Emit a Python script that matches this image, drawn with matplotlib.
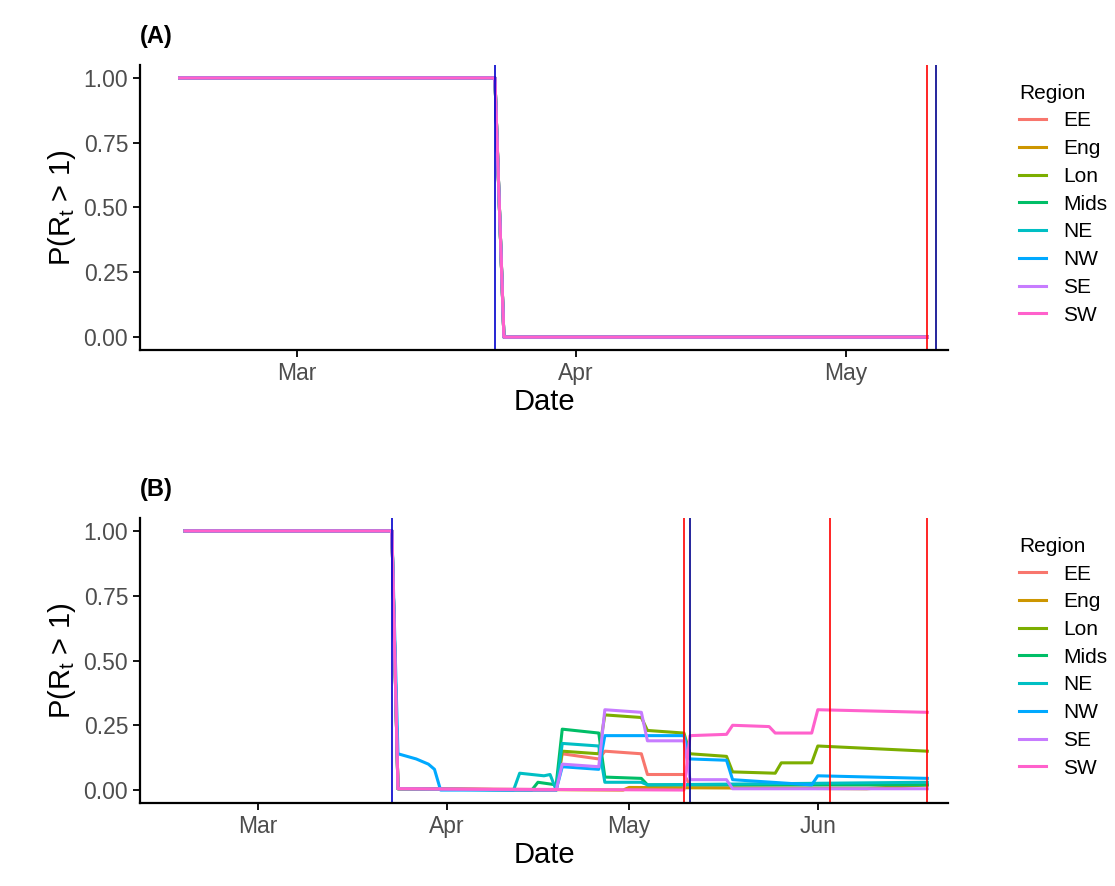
import numpy as np
import matplotlib.pyplot as plt
import matplotlib.dates as mdates
from matplotlib.lines import Line2D

plt.rcParams["font.family"] = ["Liberation Sans", "DejaVu Sans"]

regions = ["EE", "Eng", "Lon", "Mids", "NE", "NW", "SE", "SW"]
colours = ["#F8766D", "#CD9600", "#7CAE00", "#00BE67", "#00BFC4", "#00A9FF", "#C77CFF", "#FF61CC"]

# Panel A: every region identical
a_dates = ["2020-02-17", "2020-03-23", "2020-03-24", "2020-05-10"]
a_vals = [1.0, 1.0, 0.0, 0.0]
a_red = ["2020-05-10"]
a_blue = ["2020-03-23", "2020-05-11"]

# Panel B: breakpoints (day offsets from 1 March) and values per region
b_days = {
    "EE":   [-12, 22, 23, 49, 50, 56, 57, 63, 64, 70, 71, 110],
    "Eng":  [-12, 22, 23, 60, 61, 100, 110],
    "Lon":  [-12, 22, 23, 49, 50, 56, 57, 63, 64, 70, 71, 77, 78, 85, 86, 91, 92, 110],
    "Mids": [-12, 22, 23, 45, 46, 49, 50, 56, 57, 63, 64, 110],
    "NE":   [-12, 22, 23, 42, 43, 47, 48, 49, 50, 56, 57, 63, 64, 110],
    "NW":   [-12, 22, 23, 26, 28, 29, 30, 49, 50, 56, 57, 70, 71, 77, 78, 91, 92, 110],
    "SE":   [-12, 22, 23, 49, 50, 56, 57, 63, 64, 70, 71, 77, 78, 110],
    "SW":   [-12, 22, 23, 70, 71, 77, 78, 84, 85, 91, 92, 110],
}
b_vals = {
    "EE":   [1, 1, 0.005, 0.0, 0.14, 0.12, 0.15, 0.14, 0.06, 0.06, 0.02, 0.02],
    "Eng":  [1, 1, 0.005, 0.0, 0.01, 0.005, 0.02],
    "Lon":  [1, 1, 0.005, 0.0, 0.15, 0.14, 0.29, 0.28, 0.23, 0.22, 0.14, 0.13, 0.07, 0.065, 0.105, 0.105, 0.17, 0.15],
    "Mids": [1, 1, 0.005, 0.0, 0.03, 0.02, 0.235, 0.22, 0.05, 0.045, 0.02, 0.02],
    "NE":   [1, 1, 0.005, 0.0, 0.065, 0.055, 0.06, 0.0, 0.18, 0.17, 0.03, 0.03, 0.02, 0.03],
    "NW":   [1, 1, 0.14, 0.12, 0.10, 0.08, 0.0, 0.0, 0.09, 0.08, 0.21, 0.21, 0.12, 0.115, 0.04, 0.02, 0.055, 0.045],
    "SE":   [1, 1, 0.005, 0.0, 0.10, 0.09, 0.31, 0.30, 0.19, 0.19, 0.04, 0.04, 0.005, 0.005],
    "SW":   [1, 1, 0.005, 0.0, 0.21, 0.215, 0.25, 0.245, 0.22, 0.22, 0.31, 0.30],
}
b_red = ["2020-05-10", "2020-06-03", "2020-06-19"]
b_blue = ["2020-03-23", "2020-05-11"]

fig = plt.figure(figsize=(11.15, 8.86), dpi=100)
ax_a = fig.add_axes([140 / 1115, 1 - 350 / 886, 808 / 1115, 285 / 886])
ax_b = fig.add_axes([140 / 1115, 1 - 803 / 886, 808 / 1115, 285 / 886])

start = np.datetime64("2020-03-01")
for r, c in zip(regions, colours):
    ax_a.plot(np.array(a_dates, dtype="datetime64[D]"), a_vals, color=c, lw=2.2)
    d = start + np.array(b_days[r], dtype="timedelta64[D]")
    ax_b.plot(d, b_vals[r], color=c, lw=2.2)

for ax, reds, blues in [(ax_a, a_red, a_blue), (ax_b, b_red, b_blue)]:
    for d in reds:
        ax.axvline(np.datetime64(d), color="red", lw=1.2)
    for d in blues:
        ax.axvline(np.datetime64(d), color="#0000CC" if d < "2020-04" else "#00008B", lw=1.2)

def style(ax, lo_day, hi_day, ticks, label):
    s = mdates.date2num(start)
    ax.set_xlim(s + lo_day, s + hi_day)
    ax.set_ylim(-0.05, 1.05)
    ax.set_yticks([0, 0.25, 0.5, 0.75, 1.0])
    ax.set_yticklabels(["0.00", "0.25", "0.50", "0.75", "1.00"])
    ax.set_xticks([mdates.date2num(np.datetime64(t)) for t in ticks])
    ax.set_xticklabels([mdates.num2date(mdates.date2num(np.datetime64(t))).strftime("%b") for t in ticks])
    for sp in ["top", "right"]:
        ax.spines[sp].set_visible(False)
    for sp in ["left", "bottom"]:
        ax.spines[sp].set_linewidth(1.6)
    ax.tick_params(labelsize=16.5, labelcolor="#4D4D4D", width=1.3, length=5)
    ax.set_xlabel("Date", fontsize=21, labelpad=2)
    ax.set_ylabel(r"P($\mathregular{R_t}$ > 1)", fontsize=21)
    ax.text(0, 1.06, label, transform=ax.transAxes, fontsize=17, fontweight="bold", va="bottom")
    handles = [Line2D([], [], color=c, lw=2.2) for c in colours]
    ax.legend(handles, regions, title="Region", loc="upper left", bbox_to_anchor=(1.065, 1.0),
              frameon=False, fontsize=15, title_fontsize=15, handlelength=1.3,
              labelspacing=0.42, alignment="left")

style(ax_a, -17.4, 72.3, ["2020-03-01", "2020-04-01", "2020-05-01"], "(A)")
style(ax_b, -19.4, 113.4, ["2020-03-01", "2020-04-01", "2020-05-01", "2020-06-01"], "(B)")

fig.savefig("out.png", dpi=100)
